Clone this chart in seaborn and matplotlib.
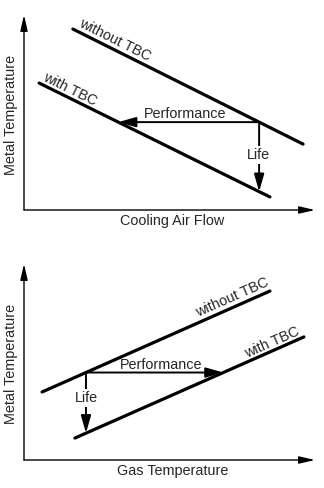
import numpy as np
import pandas as pd
import matplotlib
matplotlib.use("Agg")
import matplotlib.pyplot as plt
from matplotlib.patches import FancyArrowPatch
import seaborn as sns

sns.set_style("white")
plt.rcParams["font.family"] = ["Liberation Sans", "DejaVu Sans"]

# Upper diagram: metal temperature against cooling air flow
cooling_without_x = [16.8, 95.9]
cooling_without_y = [92.8, 33.8]
cooling_with_x = [5.2, 84.5]
cooling_with_y = [65.1, 6.7]
cooling_pivot_x = 80.8

# Lower diagram: metal temperature against gas temperature
gas_without_x = [6.2, 84.5]
gas_without_y = [34.7, 86.2]
gas_with_x = [17.5, 96.2]
gas_with_y = [11.2, 62.8]
gas_pivot_x = 21.3

series_names = ["without TBC", "with TBC"]

W, H = 324, 488
FS = 10.4
fig = plt.figure(figsize=(W / 100, H / 100), dpi=100)


def rect(left, top, right, bottom):
    return [left / W, 1 - bottom / H, (right - left) / W, (bottom - top) / H]


def y_on(xs, ys, x):
    order = np.argsort(xs)
    return float(np.interp(x, np.array(xs)[order], np.array(ys)[order]))


def x_on(xs, ys, y):
    order = np.argsort(ys)
    return float(np.interp(y, np.array(ys)[order], np.array(xs)[order]))


def arrow(ax, start, end, coords, hl, hw, lw, z=2):
    ax.add_patch(FancyArrowPatch(start, end, transform=coords,
                                 arrowstyle=f"-|>,head_length={hl},head_width={hw}",
                                 mutation_scale=1, color="black", lw=lw,
                                 shrinkA=0, shrinkB=0, clip_on=False, zorder=z))


def draw_panel(ax, wo_x, wo_y, wi_x, wi_y, pivot_x, xlabel, label_pos):
    df = pd.concat([
        pd.DataFrame({"x": wo_x, "y": wo_y, "series": series_names[0]}),
        pd.DataFrame({"x": wi_x, "y": wi_y, "series": series_names[1]}),
    ])
    sns.lineplot(data=df, x="x", y="y", units="series", estimator=None,
                 color="black", lw=2.3, ax=ax, legend=False)
    ax.set_xlim(0, 100)
    ax.set_ylim(0, 100)
    ax.set_xticks([])
    ax.set_yticks([])
    for s in ax.spines.values():
        s.set_visible(False)

    # axes drawn as arrows
    arrow(ax, (0, 0), (0, 1), ax.transAxes, 9.5, 2.2, 1.0)
    arrow(ax, (0, 0), (1, 0), ax.transAxes, 9.5, 2.2, 1.0)

    py = y_on(wo_x, wo_y, pivot_x)
    px_end = x_on(wi_x, wi_y, py)
    py_end = y_on(wi_x, wi_y, pivot_x)
    arrow(ax, (pivot_x, py), (px_end, py), ax.transData, 10.5, 3, 1.4)
    arrow(ax, (pivot_x, py), (pivot_x, py_end), ax.transData, 10.5, 3, 1.4)

    fig.canvas.draw()

    def angle(xs, ys):
        p = ax.transData.transform(np.column_stack([xs, ys]))
        d = p[1] - p[0]
        return np.degrees(np.arctan2(d[1], d[0]))

    ax.text(*label_pos["without"], series_names[0], rotation=angle(wo_x, wo_y),
            rotation_mode="anchor", ha="center", va="center", fontsize=FS)
    ax.text(*label_pos["with"], series_names[1], rotation=angle(wi_x, wi_y),
            rotation_mode="anchor", ha="center", va="center", fontsize=FS)
    ax.text(*label_pos["perf"], "Performance", ha="center", va="center",
            fontsize=FS)
    ax.text(*label_pos["life"], "Life", ha="center", va="center", fontsize=FS,
            zorder=5, bbox=dict(boxstyle="square,pad=0.15", fc="white",
                                ec="none"))

    ax.set_xlabel(xlabel, fontsize=FS)
    ax.set_ylabel("Metal Temperature", fontsize=FS)
    ax.xaxis.set_label_coords(0.51, -11 / 196, transform=ax.transAxes)
    ax.yaxis.set_label_coords(-13 / 291, 0.49, transform=ax.transAxes)
    ax.xaxis.label.set_va("center")
    ax.yaxis.label.set_va("center")


ax1 = fig.add_axes(rect(24, 15, 315, 210))
draw_panel(ax1, cooling_without_x, cooling_without_y, cooling_with_x,
           cooling_with_y, cooling_pivot_x, "Cooling Air Flow",
           {"without": (31.3, 87.2), "with": (15.8, 62.1),
            "perf": (55.3, 49.2), "life": (80.4, 28.2)})

ax2 = fig.add_axes(rect(24, 264, 315, 460))
draw_panel(ax2, gas_without_x, gas_without_y, gas_with_x, gas_with_y,
           gas_pivot_x, "Gas Temperature",
           {"without": (71.5, 82.7), "with": (85.2, 59.7),
            "perf": (47.1, 48.5), "life": (21.3, 31.6)})

fig.savefig("out.png", dpi=100)
